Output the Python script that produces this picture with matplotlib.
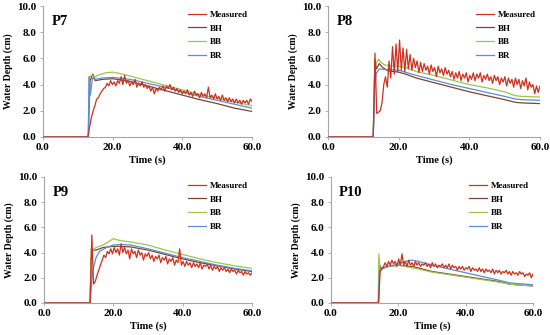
import numpy as np
import matplotlib
matplotlib.use("Agg")
import matplotlib.pyplot as plt

# ---------------- data ----------------
panels = ["P7", "P8", "P9", "P10"]
series_names = ["Measured", "BH", "BB", "BR"]
x_ticks = [0.0, 20.0, 40.0, 60.0]
y_ticks = [0.0, 2.0, 4.0, 6.0, 8.0, 10.0]

# measured: onset time then values roughly every 0.5 s up to 60 s
p7_meas_onset = 12.9
p7_meas = [0.0, 0.8, 1.5, 2.0, 2.4, 2.9, 3.0, 3.3, 3.5, 3.7,
           3.8, 4.1, 3.9, 4.3, 4.0, 4.2, 3.9, 4.3, 4.1, 4.6,
           4.0, 4.7, 4.1, 4.3, 3.9, 4.2, 4.0, 4.4, 3.8, 4.1,
           3.9, 4.2, 3.8, 4.0, 3.7, 3.9, 3.5, 3.8, 3.3, 3.7,
           3.5, 3.8, 3.6, 3.9, 3.5, 3.9, 3.7, 4.0, 3.6, 3.8,
           3.5, 3.7, 3.4, 3.6, 3.3, 3.5, 3.3, 3.6, 3.2, 3.4,
           3.1, 3.5, 3.2, 3.3, 3.0, 3.4, 3.1, 3.3, 3.0, 3.8,
           3.0, 3.2, 2.9, 3.3, 2.9, 3.1, 2.8, 3.2, 2.8, 3.0,
           2.7, 3.0, 2.7, 2.9, 2.6, 2.9, 2.6, 2.8, 2.5, 2.8,
           2.6, 2.8, 2.5, 2.9, 2.7]

p8_meas_onset = 12.8
p8_meas = [0.0, 6.4, 1.8, 1.9, 2.0, 2.6, 4.0, 4.6, 3.8, 5.8,
           4.5, 6.9, 4.8, 7.1, 5.0, 7.4, 5.1, 6.8, 5.0, 6.7,
           5.2, 6.3, 5.1, 6.0, 5.3, 5.8, 4.9, 5.7, 5.0, 5.6,
           5.1, 5.4, 4.8, 5.5, 5.0, 5.3, 4.6, 5.4, 4.9, 5.2,
           4.7, 5.3, 4.8, 5.1, 4.6, 5.0, 4.4, 4.9, 4.5, 5.0,
           4.3, 4.8, 4.5, 4.9, 4.2, 4.7, 4.4, 4.9, 4.3, 4.8,
           4.5, 4.9, 4.2, 4.7, 4.4, 4.8, 4.3, 4.6, 4.1, 4.7,
           4.3, 4.6, 4.0, 4.5, 4.2, 4.6, 3.9, 4.5, 4.1, 4.4,
           3.8, 4.5, 4.0, 4.4, 3.7, 4.3, 3.9, 4.5, 3.6, 4.2,
           3.8, 4.0, 3.3, 3.9, 3.4, 3.9]

p9_meas_onset = 13.3
p9_meas = [0.0, 5.4, 1.5, 1.7, 2.2, 2.6, 3.0, 3.4, 3.8, 3.6,
           4.1, 3.9, 4.3, 3.9, 4.4, 4.0, 4.3, 3.8, 4.7, 4.0,
           4.4, 3.9, 4.2, 3.5, 4.3, 3.9, 4.1, 3.6, 4.2, 3.8,
           4.0, 3.4, 3.9, 3.7, 4.0, 3.5, 3.8, 3.3, 3.7, 3.5,
           3.8, 3.2, 3.6, 3.4, 3.7, 3.1, 3.5, 3.3, 3.6, 3.0,
           3.4, 3.2, 4.3, 3.0, 3.3, 2.9, 3.3, 3.0, 3.2, 2.8,
           3.2, 2.9, 3.1, 2.8, 3.2, 2.7, 3.0, 2.9, 3.1, 2.7,
           3.0, 2.6, 2.9, 2.7, 2.9, 2.5, 2.8, 2.6, 2.8, 2.5,
           2.7, 2.4, 2.7, 2.5, 2.6, 2.3, 2.6, 2.4, 2.5, 2.2,
           2.5, 2.3, 2.4, 2.2, 2.4]

p10_meas_onset = 14.1
p10_meas = [0.0, 2.5, 2.7, 2.9, 3.2, 2.9, 3.3, 3.0, 3.4, 3.1,
            3.3, 2.9, 3.5, 3.0, 3.9, 3.0, 3.3, 2.9, 3.4, 3.0,
            3.2, 2.9, 3.3, 3.0, 3.2, 2.9, 3.1, 3.0, 3.2, 2.9,
            3.1, 2.8, 3.2, 2.9, 3.1, 2.8, 3.0, 2.9, 3.1, 2.8,
            3.0, 2.8, 3.1, 2.7, 3.0, 2.8, 2.9, 2.6, 2.9, 2.7,
            2.9, 2.6, 2.8, 2.7, 2.9, 2.5, 2.8, 2.6, 2.7, 2.5,
            2.8, 2.5, 2.7, 2.4, 2.7, 2.5, 2.6, 2.4, 2.7, 2.3,
            2.6, 2.4, 2.6, 2.3, 2.5, 2.4, 2.6, 2.3, 2.5, 2.2,
            2.5, 2.3, 2.4, 2.2, 2.5, 2.3, 2.4, 2.1, 2.3, 2.2,
            2.4, 2.0, 2.3]

# model series: (time, depth)
p7_bh_t = [0, 13.0, 13.5, 14.3, 15, 17, 20, 25, 30, 35, 40, 45, 50, 55, 60]
p7_bh_v = [0, 0, 4.3, 4.8, 4.3, 4.4, 4.45, 4.25, 3.9, 3.55, 3.2, 2.85, 2.55, 2.2, 1.95]
p7_bb_t = [0, 13.0, 13.3, 14, 15, 16, 18, 20, 22, 25, 30, 35, 40, 45, 50, 55, 60]
p7_bb_v = [0, 0, 4.6, 4.7, 4.6, 4.75, 4.9, 4.95, 4.85, 4.65, 4.3, 3.95, 3.6, 3.25, 2.95, 2.65, 2.4]
p7_br_t = [0, 13.0, 13.2, 13.6, 14.2, 15, 17, 20, 25, 30, 35, 40, 45, 50, 55, 60]
p7_br_v = [0, 0, 4.6, 3.2, 4.5, 4.4, 4.5, 4.55, 4.4, 4.1, 3.8, 3.45, 3.1, 2.8, 2.5, 2.2]

p8_bh_t = [0, 12.8, 13.3, 13.7, 14.5, 15.5, 17, 20, 22, 25, 30, 35, 40, 45, 50, 53, 55, 60]
p8_bh_v = [0, 0, 5.9, 5.2, 5.6, 5.3, 5.05, 4.95, 4.8, 4.5, 4.15, 3.8, 3.45, 3.15, 2.85, 2.65, 2.6, 2.55]
p8_bb_t = [0, 12.8, 13.2, 13.6, 14.3, 15, 16, 18, 20, 22, 25, 30, 35, 40, 45, 50, 53, 55, 60]
p8_bb_v = [0, 0, 4.8, 5.6, 5.95, 5.7, 5.5, 5.45, 5.4, 5.3, 5.0, 4.7, 4.35, 4.0, 3.75, 3.45, 3.15, 3.1, 3.05]
p8_br_t = [0, 12.8, 13.2, 13.6, 14.5, 16, 20, 25, 30, 35, 40, 45, 50, 53, 55, 60]
p8_br_v = [0, 0, 3.6, 4.8, 5.2, 5.15, 5.1, 4.7, 4.35, 4.0, 3.7, 3.4, 3.1, 2.9, 2.85, 2.8]

p9_bh_t = [0, 13.3, 13.6, 14, 15, 17, 20, 22, 25, 30, 35, 40, 45, 50, 55, 60]
p9_bh_v = [0, 0, 3.5, 4.2, 4.2, 4.4, 4.5, 4.5, 4.45, 4.2, 3.85, 3.5, 3.2, 2.95, 2.7, 2.5]
p9_bb_t = [0, 13.3, 13.6, 14, 15, 17, 20, 22, 25, 30, 35, 40, 45, 50, 55, 60]
p9_bb_v = [0, 0, 4.3, 4.2, 4.4, 4.6, 5.1, 4.95, 4.85, 4.6, 4.2, 3.85, 3.5, 3.2, 2.95, 2.75]
p9_br_t = [0, 13.3, 14, 15, 16, 18, 20, 22, 25, 30, 35, 40, 45, 50, 55, 60]
p9_br_v = [0, 0, 2.5, 3.6, 4.1, 4.4, 4.6, 4.65, 4.6, 4.3, 3.95, 3.6, 3.3, 3.0, 2.75, 2.55]

p10_bh_t = [0, 14.1, 14.5, 15, 17, 20, 25, 30, 35, 40, 45, 50, 53, 55, 60]
p10_bh_v = [0, 0, 3.0, 2.7, 2.9, 3.0, 2.85, 2.5, 2.3, 2.1, 1.9, 1.7, 1.5, 1.45, 1.35]
p10_bb_t = [0, 14.0, 14.2, 14.6, 15.5, 17, 20, 25, 30, 35, 40, 45, 50, 53, 55, 60]
p10_bb_v = [0, 0, 3.9, 2.6, 2.8, 2.9, 3.0, 2.75, 2.45, 2.25, 2.05, 1.85, 1.65, 1.5, 1.45, 1.35]
p10_br_t = [0, 14.1, 14.4, 15, 17, 20, 22, 24, 26, 30, 35, 40, 45, 50, 53, 55, 60]
p10_br_v = [0, 0, 2.5, 2.8, 2.9, 3.1, 3.3, 3.4, 3.3, 3.0, 2.7, 2.4, 2.1, 1.8, 1.6, 1.55, 1.45]

meas_onsets = [p7_meas_onset, p8_meas_onset, p9_meas_onset, p10_meas_onset]
meas_vals = [p7_meas, p8_meas, p9_meas, p10_meas]
bh = [(p7_bh_t, p7_bh_v), (p8_bh_t, p8_bh_v), (p9_bh_t, p9_bh_v), (p10_bh_t, p10_bh_v)]
bb = [(p7_bb_t, p7_bb_v), (p8_bb_t, p8_bb_v), (p9_bb_t, p9_bb_v), (p10_bb_t, p10_bb_v)]
br = [(p7_br_t, p7_br_v), (p8_br_t, p8_br_v), (p9_br_t, p9_br_v), (p10_br_t, p10_br_v)]

# ---------------- style ----------------
colors = {"Measured": "#d0301e", "BH": "#7c4530", "BB": "#9cc54c", "BR": "#5a8ed6"}
plt.rcParams["font.family"] = ["Liberation Serif", "DejaVu Serif"]
plt.rcParams["font.weight"] = "bold"

fig = plt.figure(figsize=(5.5, 3.35), dpi=100)
positions = [
    [43 / 550, 1 - 137 / 335, 209 / 550, 131 / 335],
    [328 / 550, 1 - 137 / 335, 212 / 550, 131 / 335],
    [44 / 550, 1 - 303 / 335, 208 / 550, 126 / 335],
    [331 / 550, 1 - 303 / 335, 202 / 550, 126 / 335],
]

for i, name in enumerate(panels):
    ax = fig.add_axes(positions[i])
    vals = meas_vals[i]
    tm = np.linspace(meas_onsets[i], 60.0, len(vals))
    tm = np.r_[0.0, tm]
    vm = np.r_[0.0, vals]
    ax.plot(tm, vm, color=colors["Measured"], lw=0.9, label="Measured", zorder=5)
    ax.plot(bh[i][0], bh[i][1], color=colors["BH"], lw=0.9, label="BH", zorder=3)
    ax.plot(bb[i][0], bb[i][1], color=colors["BB"], lw=0.9, label="BB", zorder=3)
    ax.plot(br[i][0], br[i][1], color=colors["BR"], lw=0.9, label="BR", zorder=4)

    ax.set_xlim(0, 60)
    ax.set_ylim(0, 10)
    ax.set_xticks(x_ticks)
    ax.set_yticks(y_ticks)
    ax.set_xticklabels([f"{v:.1f}" for v in x_ticks], fontsize=8, fontweight="bold")
    ax.set_yticklabels([f"{v:.1f}" for v in y_ticks], fontsize=8, fontweight="bold")
    for s in ["top", "right"]:
        ax.spines[s].set_visible(False)
    for s in ["left", "bottom"]:
        ax.spines[s].set_color("#a6a6a6")
        ax.spines[s].set_linewidth(0.8)
    ax.tick_params(length=2.5, width=0.6, color="#a6a6a6", pad=2)
    ax.set_xlabel("Time (s)", fontsize=7.5, fontweight="bold", labelpad=2)
    ax.set_ylabel("Water Depth (cm)", fontsize=7, fontweight="bold", labelpad=3)
    ax.text(0.04, 0.88, name, transform=ax.transAxes, fontsize=10.5,
            fontweight="bold", ha="left", va="center")
    ax.legend(loc="upper right", frameon=False,
              handlelength=2.0, handletextpad=0.4, labelspacing=0.6,
              borderaxespad=0.1, prop={"weight": "bold", "size": 6.5})

fig.savefig("out.png", dpi=100)
